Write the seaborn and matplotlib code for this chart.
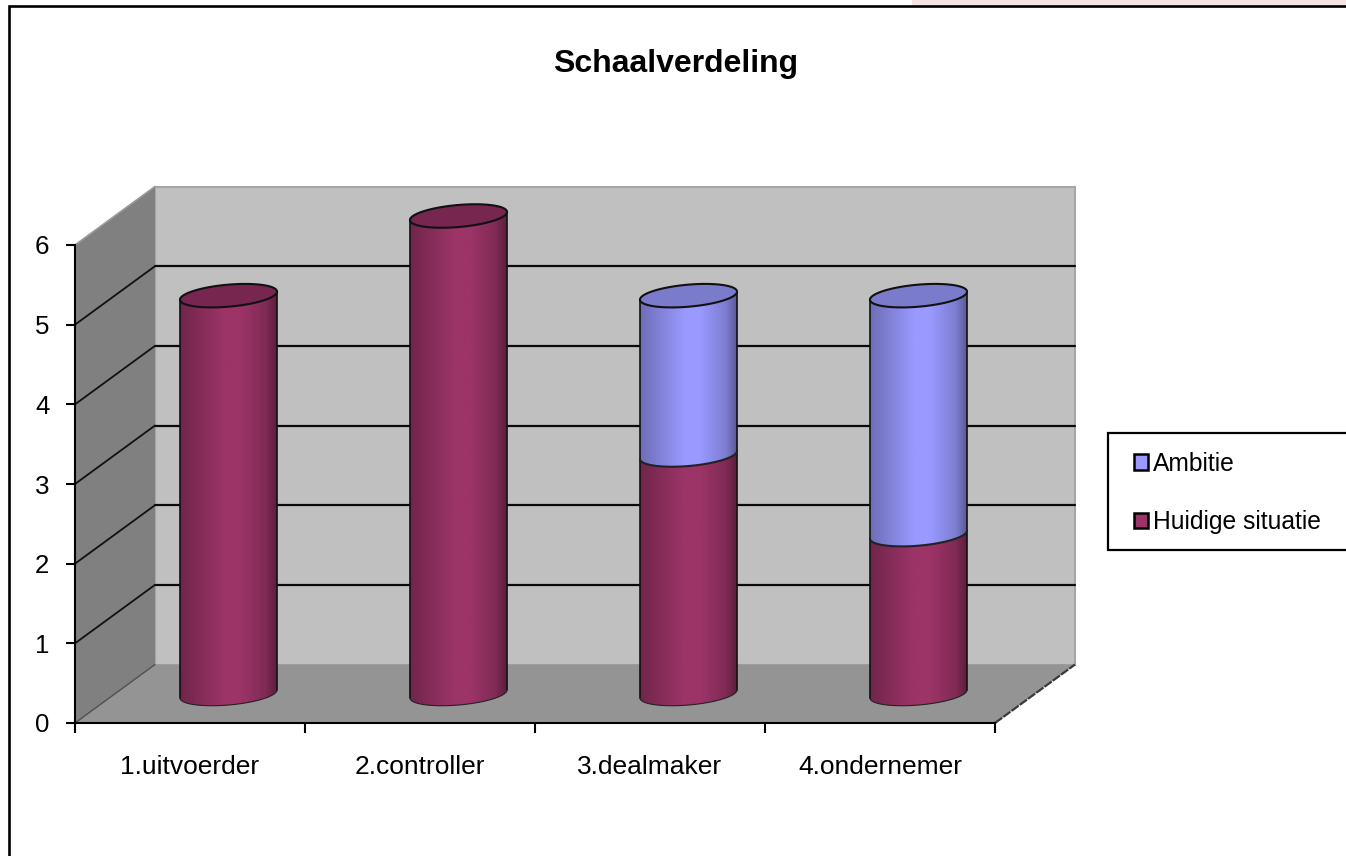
import numpy as np
import pandas as pd
import matplotlib
matplotlib.use("Agg")
import matplotlib.pyplot as plt
import seaborn as sns
from matplotlib.colors import LinearSegmentedColormap, to_rgb
from matplotlib.lines import Line2D
from matplotlib.patches import Patch, PathPatch, Polygon, Rectangle
from matplotlib.path import Path
from matplotlib.transforms import IdentityTransform, offset_copy

# Chart data
categories = ['1.uitvoerder', '2.controller', '3.dealmaker', '4.ondernemer']
huidige = [5, 6, 3, 2]
ambitie = [0, 0, 2, 3]
y_ticks = [0, 1, 2, 3, 4, 5, 6]
title = 'Schaalverdeling'

MAROON = '#9C3468'
BLUE = '#9999FF'

sns.set_theme(style="white")
plt.rcParams['font.family'] = ['Liberation Sans', 'DejaVu Sans']

W, H = 1346, 856
fig = plt.figure(figsize=(W / 100, H / 100), dpi=100, facecolor='white')
ax = fig.add_axes([75 / W, (H - 723) / H, 920 / W, 478 / H], facecolor='none')

# Seaborn draws the bars, totals first so both series stay on the shared scale
df = pd.DataFrame({'cat': categories, 'huidige': huidige})
df['totaal'] = df['huidige'] + np.array(ambitie)
sns.barplot(data=df, x='cat', y='totaal', color=BLUE, width=0.422, saturation=1, ax=ax)
sns.barplot(data=df, x='cat', y='huidige', color=MAROON, width=0.422, saturation=1, ax=ax)
ax.set_xlim(-0.5, 3.5)
ax.set_ylim(0, 6)
ax.set_xlabel('')
ax.set_ylabel('')

n = len(categories)
bars = list(ax.patches)
bars_total, bars_now = bars[:n], bars[n:]

# Depth of the fake 3D box, in pixels
back = offset_copy(ax.transData, fig=fig, x=80, y=58.5, units='dots')
mid = offset_copy(ax.transData, fig=fig, x=38.5, y=29, units='dots')
pixels = IdentityTransform()


def wall(pts_front, pts_back, color, z):
    pts = np.vstack([ax.transData.transform(pts_front), back.transform(pts_back)])
    ax.add_patch(Polygon(pts, closed=True, transform=pixels, facecolor=color,
                         edgecolor='none', zorder=z, clip_on=False))


xmin, xmax = ax.get_xlim()
ymin, ymax = ax.get_ylim()
ax.add_patch(Rectangle((xmin, ymin), xmax - xmin, ymax - ymin, transform=back,
                       facecolor='#C0C0C0', edgecolor='#A6A6A6', lw=1.5, zorder=0.5, clip_on=False))
wall([(xmin, ymin), (xmin, ymax)], [(xmin, ymax), (xmin, ymin)], '#808080', 0.6)
wall([(xmin, ymin), (xmax, ymin)], [(xmax, ymin), (xmin, ymin)], '#949494', 0.7)

for t in y_ticks[1:-1]:
    ax.plot([xmin, xmax], [t, t], color='#0A0A0A', lw=1.6, transform=back, zorder=0.8, clip_on=False)
    p0 = ax.transData.transform((xmin, t))
    p1 = back.transform((xmin, t))
    ax.plot([p0[0], p1[0]], [p0[1], p1[1]], color='#111111', lw=1.3, transform=pixels, zorder=0.8, clip_on=False)

# Box edges
for yy, col, lw in [(ymin, '#505050', 1.0), (ymax, '#9A9A9A', 1.2)]:
    p0 = ax.transData.transform((xmin, yy))
    p1 = back.transform((xmin, yy))
    ax.plot([p0[0], p1[0]], [p0[1], p1[1]], color=col, lw=lw, transform=pixels, zorder=0.9, clip_on=False)
p0 = ax.transData.transform((xmax, ymin))
p1 = back.transform((xmax, ymin))
ax.plot([p0[0], p1[0]], [p0[1], p1[1]], color='#3A3A3A', lw=1.6, ls=(0, (4, 0.6)),
        transform=pixels, zorder=0.9, clip_on=False)


def ellipse_points(cx, cy, a=48.7, b=11, tilt=np.radians(5)):
    t = np.linspace(0, 2 * np.pi, 361)[:-1]
    x = cx + a * np.cos(t) * np.cos(tilt) - b * np.sin(t) * np.sin(tilt)
    y = cy + a * np.cos(t) * np.sin(tilt) + b * np.sin(t) * np.cos(tilt)
    return np.column_stack([x, y])


def front_arc(pts):
    # from the leftmost point through the lower side to the rightmost point
    i0, i1 = pts[:, 0].argmin(), pts[:, 0].argmax()
    if i1 < i0:
        i1 += len(pts)
    return pts[np.arange(i0, i1 + 1) % len(pts)]


def shade(color):
    rgb = np.array(to_rgb(color))
    stops = [(0, rgb * 0.72), (0.45, rgb), (0.62, rgb), (0.88, rgb * 0.82), (1, rgb * 0.58)]
    return LinearSegmentedColormap.from_list('cyl', [(p, tuple(c)) for p, c in stops])


def cylinder(bar, y0, y1, color, z):
    xc = bar.get_x() + bar.get_width() / 2
    half = bar.get_width() / 2
    c0 = mid.transform((xc, y0))
    c1 = mid.transform((xc, y1))
    low = front_arc(ellipse_points(*c0))
    high = front_arc(ellipse_points(*c1))
    outline = np.vstack([low, high[::-1], low[:1]])
    clip = PathPatch(Path(outline), transform=pixels, facecolor='none', edgecolor='none')
    ax.add_patch(clip)
    clip.set_clip_on(False)

    grad = np.linspace(0, 1, 120)[None, :]
    im = ax.imshow(grad, cmap=shade(color), vmin=0, vmax=1, aspect='auto', zorder=z,
                   extent=[xc - half, xc + half, y0 - 0.3, y1 + 0.3], interpolation='bilinear')
    im.set_transform(mid)
    im.set_clip_box(fig.bbox)
    im.set_clip_path(clip)
    for s in (0, -1):
        ax.plot([low[s, 0], high[s, 0]], [low[s, 1], high[s, 1]], color='#111111', lw=1.2,
                transform=pixels, zorder=z + 0.1, clip_on=False)
    ax.plot(low[:, 0], low[:, 1], color='#222222', lw=0.8 if y0 == 0 else 1.5,
            transform=pixels, zorder=z + 0.1, clip_on=False)
    return c1


for i, cat in enumerate(categories):
    bars_total[i].set_visible(False)
    bars_now[i].set_visible(False)
    top = cylinder(bars_now[i], 0, huidige[i], MAROON, 2)
    lid = '#76264F'
    if ambitie[i] > 0:
        top = cylinder(bars_total[i], huidige[i], huidige[i] + ambitie[i], BLUE, 3)
        lid = '#7B7BCC'
    ax.add_patch(Polygon(ellipse_points(*top), closed=True, transform=pixels, facecolor=lid,
                         edgecolor='#111111', lw=1.5, zorder=4, clip_on=False))

ax.set_xlim(xmin, xmax)
ax.set_ylim(ymin, ymax)

# Axes
sns.despine(ax=ax, top=True, right=True)
for side in ('left', 'bottom'):
    ax.spines[side].set_color('black')
    ax.spines[side].set_linewidth(1.5)
    ax.spines[side].set_zorder(5)
ax.set_yticks(y_ticks)
ax.set_xticks(range(n))
ax.set_xticklabels(categories)
ax.set_xticks(np.arange(xmin, xmax + 1), minor=True)
ax.tick_params(axis='x', which='major', length=0, pad=23, labelsize=19, labelcolor='black')
ax.tick_params(axis='x', which='minor', bottom=True, length=7.5, width=1.5, color='black')
ax.tick_params(axis='y', left=True, length=6.5, width=1.5, color='black', pad=12,
               labelsize=18.6, labelcolor='black')

# Title, chart frame, slide remnant at the top
fig.text(676 / W, 1 - 64 / H, title, ha='center', va='center', fontsize=23, fontweight='bold', color='black')
fig.add_artist(Rectangle((912 / W, 1 - 5 / H), (W - 912) / W, 5 / H, transform=fig.transFigure,
                         facecolor='#F6E3E3', edgecolor='none', zorder=0))
fig.add_artist(Line2D([9 / W, 9 / W, 1], [0, 1 - 6.3 / H, 1 - 6.3 / H], transform=fig.transFigure,
                      color='black', lw=1.9, solid_joinstyle='miter'))

# Legend
fig.add_artist(Rectangle((1108 / W, 1 - 549.5 / H), 240 / W, 117 / H, transform=fig.transFigure,
                         facecolor='white', edgecolor='black', lw=1.6, zorder=3))
handles = [Patch(facecolor=BLUE, edgecolor='black', lw=1.8, label='Ambitie'),
           Patch(facecolor=MAROON, edgecolor='black', lw=1.8, label='Huidige situatie')]
leg = fig.legend(handles=handles, loc='center left', frameon=False, fontsize=17.7,
                 bbox_to_anchor=(1114 / W, 1 - 493 / H), handlelength=0.6, handleheight=0.6,
                 handletextpad=0.2, labelspacing=1.39, borderpad=0.3, labelcolor='black')
leg.set_zorder(6)

fig.savefig('out.png', dpi=100)
